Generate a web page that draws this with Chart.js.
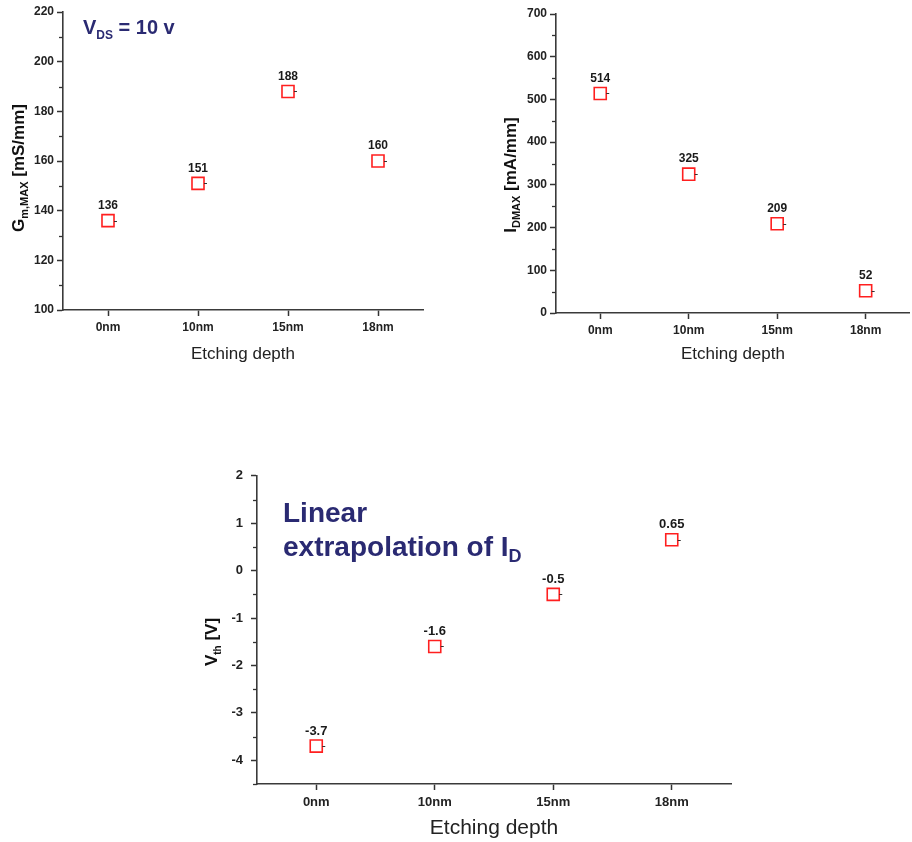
<!DOCTYPE html>
<html>
<head>
<meta charset="utf-8">
<script src="https://cdn.jsdelivr.net/npm/chart.js@4.4.1/dist/chart.umd.min.js"></script>
<style>
  html, body { margin: 0; padding: 0; background: #fff; overflow: hidden; width: 912px; height: 842px; }
  canvas { position: absolute; }
</style>
</head>
<body>
<canvas id="gmChart" width="440" height="375" style="left:0;top:0"></canvas>
<canvas id="idChart" width="430" height="375" style="left:490px;top:0"></canvas>
<canvas id="vthChart" width="560" height="382" style="left:190px;top:460px"></canvas>
<script>
// Etching depth categories shared by all three plots
const depthLabels = ["0nm", "10nm", "15nm", "18nm"];

// Measured values per etching depth
const gmMax = [136, 151, 188, 160];   // mS/mm
const idMax = [514, 325, 209, 52];    // mA/mm
const vth = [-3.7, -1.6, -0.5, 0.65]; // V

// Y axis ranges: [min, max, major step, minor step]
const gmRange = [100, 220, 20, 10];
const idRange = [0, 700, 100, 50];
const vthRange = [-4.5, 2, 1, 0.5];

const FONT = '"Liberation Sans", Arial, sans-serif';
const NAVY = "#2a2a72";

// y titles and notes with subscripts, keyed by canvas id
const textDecor = {
  gmChart: {
    yTitle: {
      x: 18,
      y: 168,
      runs: [
        { text: "G", size: 17, shift: 0 },
        { text: "m,MAX", size: 11, shift: 4 },
        { text: " [mS/mm]", size: 17, shift: 0 },
      ],
    },
    notes: [
      {
        x: 83,
        y: 34,
        runs: [
          { text: "V", size: 20, shift: 0 },
          { text: "DS", size: 12, shift: 5 },
          { text: " = 10 v", size: 20, shift: 0 },
        ],
      },
    ],
  },
  idChart: {
    yTitle: {
      x: 20,
      y: 175,
      runs: [
        { text: "I", size: 17, shift: 0 },
        { text: "DMAX", size: 11, shift: 4 },
        { text: " [mA/mm]", size: 17, shift: 0 },
      ],
    },
    notes: [],
  },
  vthChart: {
    yTitle: {
      x: 21,
      y: 182,
      runs: [
        { text: "V", size: 17, shift: 0 },
        { text: "th", size: 10, shift: 4 },
        { text: " [V]", size: 17, shift: 0 },
      ],
    },
    notes: [
      { x: 93, y: 62, runs: [{ text: "Linear", size: 28, shift: 0 }] },
      {
        x: 93,
        y: 96,
        runs: [
          { text: "extrapolation of I", size: 28, shift: 0 },
          { text: "D", size: 18, shift: 6 },
        ],
      },
    ],
  },
};

// value printed above every marker, plus the little stub on its right
const valueLabels = {
  id: "valueLabels",
  afterDatasetsDraw(chart, args, opts) {
    const { ctx } = chart;
    const values = chart.data.datasets[0].data;
    ctx.save();
    ctx.font = opts.font;
    ctx.fillStyle = "#1a1a1a";
    ctx.textAlign = "center";
    ctx.textBaseline = "middle";
    chart.getDatasetMeta(0).data.forEach((pt, i) => {
      const { x, y } = pt.getProps(["x", "y"]);
      ctx.fillText(String(values[i]), x, y - 15);
      ctx.strokeStyle = "#333";
      ctx.lineWidth = 1;
      ctx.beginPath();
      ctx.moveTo(x + 6, Math.round(y) + 0.5);
      ctx.lineTo(x + 9, Math.round(y) + 0.5);
      ctx.stroke();
    });
    ctx.restore();
  },
};

// short unlabelled ticks between the major ones
const minorTicks = {
  id: "minorTicks",
  afterDraw(chart, args, opts) {
    const s = chart.scales.y;
    const { ctx } = chart;
    ctx.save();
    ctx.strokeStyle = "#333";
    ctx.lineWidth = 1.3;
    for (let v = s.min; v <= s.max + 1e-9; v += opts.step) {
      const r = v / opts.major;
      if (Math.abs(r - Math.round(r)) < 1e-6) continue;
      const py = Math.round(s.getPixelForValue(v)) + 0.5;
      ctx.beginPath();
      ctx.moveTo(s.right - opts.length, py);
      ctx.lineTo(s.right, py);
      ctx.stroke();
    }
    ctx.restore();
  },
};

function runsWidth(ctx, runs) {
  return runs.reduce((w, r) => {
    ctx.font = `bold ${r.size}px ${FONT}`;
    return w + ctx.measureText(r.text).width;
  }, 0);
}
function drawRuns(ctx, runs, x, y) {
  runs.forEach((r) => {
    ctx.font = `bold ${r.size}px ${FONT}`;
    ctx.fillText(r.text, x, y + r.shift);
    x += ctx.measureText(r.text).width;
  });
}
const richText = {
  id: "richText",
  afterDraw(chart) {
    const d = textDecor[chart.canvas.id];
    const { ctx } = chart;
    ctx.save();
    ctx.textBaseline = "alphabetic";
    ctx.textAlign = "left";
    // rotated y axis title
    const t = d.yTitle;
    ctx.fillStyle = "#111";
    ctx.translate(t.x, t.y);
    ctx.rotate(-Math.PI / 2);
    drawRuns(ctx, t.runs, -runsWidth(ctx, t.runs) / 2, 6);
    ctx.setTransform(1, 0, 0, 1, 0, 0);
    // notes inside the plot
    ctx.fillStyle = NAVY;
    d.notes.forEach((n) => drawRuns(ctx, n.runs, n.x, n.y));
    ctx.restore();
  },
};

function buildChart(id, c) {
  const tickStyle = { family: FONT, size: c.tickSize, weight: "bold" };
  const grid = {
    display: true,
    drawOnChartArea: false,
    tickLength: 6,
    tickColor: "#333",
    tickWidth: 1.5,
  };
  const border = { color: "#3a3a3a", width: 1.6 };
  return new Chart(document.getElementById(id), {
    type: "line",
    data: {
      labels: depthLabels,
      datasets: [
        {
          data: c.values,
          showLine: false,
          pointStyle: "rect",
          pointRadius: 8.5,
          pointHoverRadius: 8.5,
          pointBorderWidth: 1.6,
          pointBorderColor: "#ff1f1f",
          pointBackgroundColor: "rgba(0,0,0,0)",
        },
      ],
    },
    options: {
      responsive: false,
      animation: false,
      events: [],
      layout: { padding: c.padding },
      plugins: {
        legend: { display: false },
        tooltip: { enabled: false },
        valueLabels: { font: `bold ${c.tickSize}px ${FONT}` },
        minorTicks: { step: c.range[3], major: c.range[2], length: 4 },
      },
      scales: {
        x: {
          type: "category",
          offset: true,
          grid: grid,
          border: border,
          ticks: { font: tickStyle, color: "#222", padding: c.xTickPad, maxRotation: 0 },
          title: {
            display: true,
            text: "Etching depth",
            color: "#222",
            font: { family: FONT, size: c.xTitleSize },
            padding: { top: 0, bottom: c.xTitlePad },
          },
          afterFit(s) {
            s.height = c.xHeight;
          },
        },
        y: {
          min: c.range[0],
          max: c.range[1],
          grid: grid,
          border: border,
          ticks: {
            stepSize: c.range[2],
            includeBounds: false,
            font: tickStyle,
            color: "#222",
            padding: c.yTickPad,
          },
          afterFit(s) {
            s.width = c.yWidth;
          },
        },
      },
    },
    plugins: [valueLabels, minorTicks, richText],
  });
}

buildChart("gmChart", {
  values: gmMax,
  range: gmRange,
  padding: { top: 12, right: 17, bottom: 0, left: 0 },
  yWidth: 63,
  xHeight: 65,
  tickSize: 12,
  xTickPad: 4,
  yTickPad: 3,
  xTitleSize: 17,
  xTitlePad: 10,
});

buildChart("idChart", {
  values: idMax,
  range: idRange,
  padding: { top: 14, right: 0, bottom: 0, left: 0 },
  yWidth: 66,
  xHeight: 62,
  tickSize: 12,
  xTickPad: 4,
  yTickPad: 3,
  xTitleSize: 17,
  xTitlePad: 10,
});

buildChart("vthChart", {
  values: vth,
  range: vthRange,
  padding: { top: 11, right: 19, bottom: 0, left: 0 },
  yWidth: 67,
  xHeight: 58,
  tickSize: 13,
  xTickPad: 5,
  yTickPad: 8,
  xTitleSize: 21,
  xTitlePad: 1,
});
</script>
</body>
</html>
